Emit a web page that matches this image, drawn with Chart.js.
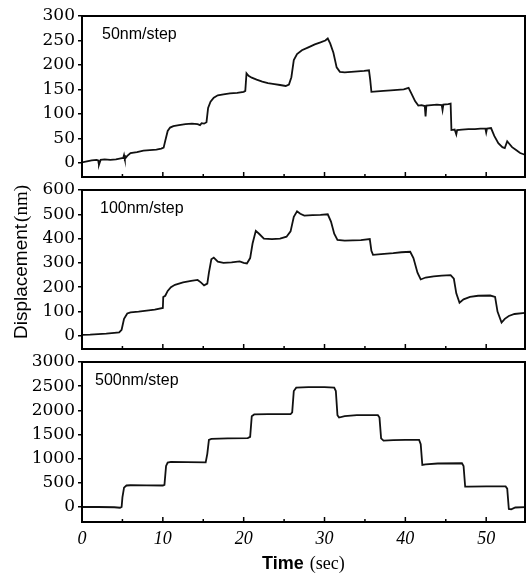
<!DOCTYPE html>
<html>
<head>
<meta charset="utf-8">
<script src="https://cdn.jsdelivr.net/npm/chart.js@4.4.0/dist/chart.umd.min.js"></script>
<style>
  body { margin: 0; background: #fff; }
  #wrap { position: relative; width: 526px; height: 575px; }
  #wrap canvas { position: absolute; left: 0; top: 0; }
</style>
</head>
<body>
<div id="wrap">
  <canvas id="c50" width="526" height="575"></canvas>
  <canvas id="c100" width="526" height="575"></canvas>
  <canvas id="c500" width="526" height="575"></canvas>
</div>
<script>
// time (sec) and displacement (nm)
const t50 = [0, 0.6, 1.2, 1.8, 2.0, 2.1, 2.3, 2.8, 3.5, 4.2,
  4.8, 5.1, 5.2, 5.3, 5.6, 6.0, 6.8, 7.6, 8.4, 9.2,
  9.8, 10.1, 10.3, 10.6, 10.9, 11.3, 12.0, 12.8, 13.6, 14.3,
  14.6, 14.8, 15.1, 15.4, 15.6, 15.9, 16.3, 16.8, 17.5, 18.3,
  19.2, 20.0, 20.2, 20.35, 20.6, 21.0, 21.6, 22.3, 23.0, 23.8,
  24.5, 25.2, 25.6, 25.9, 26.2, 26.6, 27.2, 28.0, 28.8, 29.5,
  30.1, 30.4, 30.7, 31.1, 31.5, 31.9, 32.5, 33.3, 34.1, 34.9,
  35.5, 35.65, 35.8, 36.5, 37.3, 38.2, 39.0, 39.8, 40.4, 40.8,
  41.2, 41.6, 42.0, 42.4, 42.5, 42.6, 43.2, 43.9, 44.5, 44.6,
  44.7, 45.3, 45.6, 45.7, 46.1, 46.3, 46.4, 47.0, 47.8, 48.6,
  49.3, 49.9, 50.0, 50.1, 50.6, 51.0, 51.5, 52.0, 52.3, 52.6,
  52.8, 53.2, 53.7, 54.2, 54.7, 55.0];
const d50 = [1, 3, 5, 6, 5, -4, 6, 7, 6, 7,
  9, 10, 16, 8, 14, 20, 22, 25, 26, 27,
  29, 31, 45, 65, 72, 75, 77, 79, 80, 79,
  77, 81, 80, 83, 112, 125, 133, 138, 140, 142,
  143, 145, 147, 183, 178, 174, 170, 166, 163, 161,
  159, 157, 160, 175, 210, 222, 230, 236, 242, 246,
  250, 254, 244, 225, 195, 186, 185, 186, 187, 188,
  189, 170, 145, 146, 147, 148, 149, 150, 153, 140,
  126, 117, 118, 116, 95, 117, 118, 119, 118, 108,
  119, 120, 121, 67, 68, 58, 67, 68, 69, 69,
  70, 70, 62, 70, 71, 55, 40, 32, 30, 44,
  40, 32, 26, 20, 17, 16];

const t100 = [0, 1, 2, 3, 4, 4.6, 4.9, 5.2, 5.6, 6,
  7, 8, 9, 10, 10.05, 10.3, 10.6, 11, 11.5, 12.5,
  13.5, 14.3, 14.7, 15.1, 15.5, 15.7, 16.0, 16.3, 16.8, 17.5,
  18.5, 19.5, 20, 20.4, 20.8, 21.1, 21.5, 21.9, 22.5, 23.5,
  24.5, 25.3, 25.8, 26.2, 26.6, 27, 27.5, 28.5, 29.5, 30.4,
  30.8, 31.2, 31.6, 32.5, 33.5, 34.5, 35.6, 35.8, 36, 37,
  38.5, 39.5, 40.6, 41, 41.5, 41.9, 42.5, 43.5, 44.5, 45.6,
  46, 46.3, 46.7, 47.2, 48, 49, 50.5, 51.1, 51.4, 51.9,
  52.3, 52.8, 53.5, 55];
const d100 = [4, 5, 7, 9, 12, 14, 25, 70, 92, 97,
  100, 104, 108, 115, 160, 165, 185, 200, 210, 220,
  226, 230, 220, 208, 215, 260, 315, 322, 305, 300,
  302, 306, 300, 298, 320, 380, 432, 420, 400, 398,
  400, 408, 430, 490, 512, 502, 495, 497, 498, 500,
  470, 420, 395, 392, 393, 394, 398, 350, 333, 336,
  340, 344, 346, 320, 260, 232, 240, 245, 248, 250,
  235, 175, 136, 150, 160, 165, 166, 160, 100, 55,
  70, 82, 90, 95];

const t500 = [0, 2, 4, 4.7, 4.9, 5.0, 5.2, 5.5, 6, 8,
  10, 10.2, 10.4, 10.6, 11, 13, 15.3, 15.5, 15.7, 16,
  18, 20.5, 20.8, 21, 21.3, 23, 25.8, 26.0, 26.2, 26.5,
  28, 30, 31.2, 31.4, 31.6, 31.8, 32.5, 34, 36.6, 36.8,
  37, 37.3, 38.5, 40, 41.7, 41.9, 42.1, 42.5, 44, 47,
  47.2, 47.4, 47.8, 50, 52.4, 52.6, 52.8, 53.1, 53.6, 55];
const d500 = [0, 0, -5, -15, 0, 200, 400, 445, 450, 448,
  445, 460, 850, 920, 935, 930, 925, 1100, 1390, 1410,
  1420, 1425, 1450, 1880, 1915, 1920, 1920, 1960, 2400, 2470,
  2480, 2480, 2470, 2400, 1900, 1850, 1880, 1900, 1900, 1850,
  1420, 1375, 1385, 1390, 1390, 1300, 870, 880, 900, 905,
  850, 420, 420, 425, 425, 380, -40, -50, -10, 0];

const yTicks50 = [0, 50, 100, 150, 200, 250, 300];
const yTicks100 = [0, 100, 200, 300, 400, 500, 600];
const yTicks500 = [0, 500, 1000, 1500, 2000, 2500, 3000];
const xTicks = [0, 10, 20, 30, 40, 50];
const xMinorTicks = [0, 5, 10, 15, 20, 25, 30, 35, 40, 45, 50];

const serif = '"Liberation Serif", "Times New Roman", serif';
const wideSerif = '"DejaVu Serif", serif';
const sans = '"Liberation Sans", Arial, sans-serif';

// box around each panel, inward ticks on the time axis, step label, axis titles
const framePlugin = {
  id: 'frame',
  afterDraw(chart, args, opts) {
    const ctx = chart.ctx;
    const a = chart.chartArea;
    const xs = chart.scales.x;
    ctx.save();
    ctx.strokeStyle = '#000';
    ctx.lineWidth = 2;
    ctx.strokeRect(a.left, a.top, a.right - a.left, a.bottom - a.top);
    ctx.lineWidth = 1.5;
    xMinorTicks.forEach(v => {
      const px = xs.getPixelForValue(v);
      const len = v % 10 === 0 ? 5 : 3;
      ctx.beginPath();
      ctx.moveTo(px, a.bottom);
      ctx.lineTo(px, a.bottom - len);
      ctx.stroke();
    });
    ctx.fillStyle = '#000';
    ctx.font = '16px ' + sans;
    ctx.textBaseline = 'middle';
    ctx.textAlign = 'left';
    ctx.fillText(opts.label, opts.lx, a.top + 19);

    if (opts.yTitle) {
      ctx.save();
      ctx.translate(27, 262);
      ctx.rotate(-Math.PI / 2);
      ctx.textBaseline = 'alphabetic';
      ctx.font = '19px ' + sans;
      const w1 = ctx.measureText('Displacement').width;
      ctx.font = '19px ' + serif;
      const w2 = ctx.measureText('(nm)').width;
      let x0 = -(w1 + 2 + w2) / 2;
      ctx.font = '19px ' + sans;
      ctx.fillText('Displacement', x0, 0);
      ctx.font = '19px ' + serif;
      ctx.fillText('(nm)', x0 + w1 + 2, 0);
      ctx.restore();
    }
    if (opts.xTitle) {
      ctx.textBaseline = 'alphabetic';
      ctx.font = 'bold 18px ' + sans;
      const w1 = ctx.measureText('Time').width;
      ctx.fillText('Time', 262, 569);
      ctx.font = '18px ' + serif;
      ctx.fillText('(sec)', 262 + w1 + 6, 569);
    }
    ctx.restore();
  }
};

function makePanel(id, times, values, yTicks, yMin, yMax, pad, frameOpts, showX) {
  const pts = times.map((t, i) => ({ x: t, y: values[i] }));
  return new Chart(document.getElementById(id), {
    type: 'line',
    data: {
      datasets: [{
        data: pts,
        borderColor: '#111',
        borderWidth: 1.8,
        pointRadius: 0,
        tension: 0,
        fill: false
      }]
    },
    options: {
      responsive: false,
      animation: false,
      events: [],
      layout: { padding: pad },
      plugins: {
        legend: { display: false },
        tooltip: { enabled: false },
        frame: frameOpts
      },
      scales: {
        x: {
          type: 'linear',
          min: 0,
          max: 54.8,
          display: showX,
          afterBuildTicks: s => { s.ticks = xTicks.map(v => ({ value: v })); },
          afterFit: s => { if (showX) s.height = 53; },
          grid: { display: false, drawTicks: false },
          border: { display: false },
          ticks: {
            padding: 6,
            color: '#000',
            maxRotation: 0,
            autoSkip: false,
            font: { family: serif, size: 18, style: 'italic' },
            callback: v => String(v)
          }
        },
        y: {
          min: yMin,
          max: yMax,
          afterBuildTicks: s => { s.ticks = yTicks.map(v => ({ value: v })); },
          afterFit: s => { s.width = 82; },
          grid: {
            display: true,
            drawOnChartArea: false,
            drawTicks: true,
            tickLength: 4,
            color: '#000',
            lineWidth: 1.5
          },
          border: { display: false },
          ticks: {
            padding: 3,
            color: '#000',
            autoSkip: false,
            font: { family: wideSerif, size: 17 },
            callback: v => String(v)
          }
        }
      }
    },
    plugins: [framePlugin]
  });
}

makePanel('c50', t50, d50, yTicks50, -29, 300,
  { top: 16, bottom: 398, left: 0, right: 1 },
  { label: '50nm/step', lx: 102 }, false);
makePanel('c100', t100, d100, yTicks100, -54, 600,
  { top: 190, bottom: 226, left: 0, right: 1 },
  { label: '100nm/step', lx: 100, yTitle: true }, false);
makePanel('c500', t500, d500, yTicks500, -310, 3000,
  { top: 362, bottom: 0, left: 0, right: 1 },
  { label: '500nm/step', lx: 95, xTitle: true }, true);
</script>
</body>
</html>
